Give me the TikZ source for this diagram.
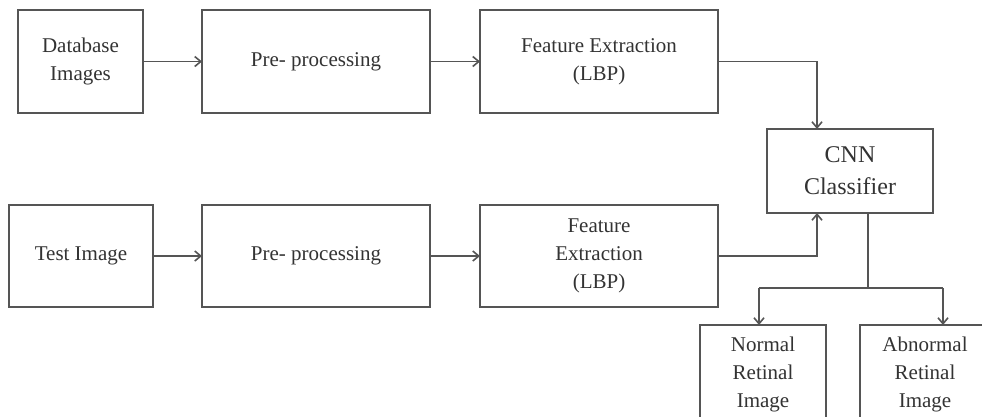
\documentclass[tikz,border=0pt]{standalone}
\usepackage{fontspec}
\setmainfont{Liberation Serif}
\usetikzlibrary{arrows.meta}
\definecolor{ln}{HTML}{555555}
\definecolor{tx}{HTML}{333333}
\begin{document}
\begin{tikzpicture}[x=1pt,y=-1pt,
  box/.style={draw=ln,line width=1.8pt,fill=white,inner sep=0pt,outer sep=0pt,
    align=center,text=tx,font=\fontsize{21}{28}\selectfont},
  conn/.style={draw=ln,line width=1.6pt},
  arr/.style={conn,-{Straight Barb[length=6pt,width=10pt]}}]
\useasboundingbox (0,0) rectangle (982,416);
\clip (0,0) rectangle (982,416);
\fill[white] (0,0) rectangle (982,416);
% top row
\node[box,minimum width=125pt,minimum height=103pt] (db) at (80.5,61.5) {Database\\Images};
\node[box,minimum width=228pt,minimum height=103pt] (pp1) at (316,61.5) {Pre- processing};
\node[box,minimum width=238pt,minimum height=103pt] (fe1) at (599,61.5) {Feature Extraction\\(LBP)};
% classifier
\node[box,minimum width=166pt,minimum height=84pt,font=\fontsize{24}{32}\selectfont] (cnn) at (850,171) {CNN\\Classifier};
% bottom row
\node[box,minimum width=144pt,minimum height=102pt] (test) at (81,256) {Test Image};
\node[box,minimum width=228pt,minimum height=102pt] (pp2) at (316,256) {Pre- processing};
\node[box,minimum width=238pt,minimum height=102pt] (fe2) at (599,256) {Feature\\Extraction\\(LBP)};
% outputs
\node[box,minimum width=126pt,minimum height=98pt] (norm) at (763,374) {Normal\\Retinal\\Image};
\node[box,minimum width=130pt,minimum height=98pt] (abn) at (925,374) {Abnormal\\Retinal\\Image};
% helper coordinates
\coordinate (cx) at (817,0);
\coordinate (cy) at (868,0);
\coordinate (split) at (868,288);
\coordinate (na) at (759,288);
\coordinate (nb) at (943,288);
% connectors
\draw[arr] (db.east) -- (pp1.west);
\draw[arr] (pp1.east) -- (fe1.west);
\draw[arr] (fe1.east) -| (cx |- cnn.north);
\draw[arr] (test.east) -- (pp2.west);
\draw[arr] (pp2.east) -- (fe2.west);
\draw[arr] (fe2.east) -| (cx |- cnn.south);
\draw[conn] (cy |- cnn.south) -- (split);
\draw[conn] (na) -- (nb);
\draw[arr] (na) -- (na |- norm.north);
\draw[arr] (nb) -- (nb |- abn.north);
\end{tikzpicture}
\end{document}
